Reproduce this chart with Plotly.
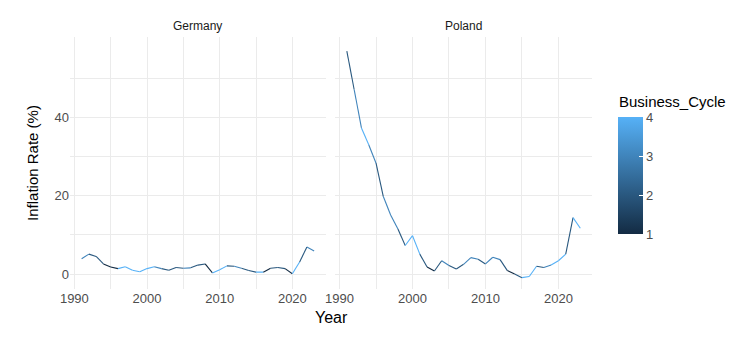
import plotly.graph_objects as go
from plotly.colors import sample_colorscale

years = list(range(1991, 2024))

germany_inflation = [3.9, 5.1, 4.5, 2.6, 1.8, 1.4, 1.9, 1.0, 0.6, 1.4,
                     1.9, 1.4, 1.0, 1.7, 1.5, 1.6, 2.3, 2.6, 0.3, 1.1,
                     2.1, 2.0, 1.5, 0.9, 0.5, 0.5, 1.5, 1.7, 1.4, 0.1,
                     3.1, 6.9, 5.9]
germany_cycle = [3, 2, 2, 1, 1, 4, 4, 4, 4, 4,
                 3, 2, 2, 2, 3, 2, 2, 1, 4, 4,
                 2, 3, 2, 2, 4, 1, 2, 2, 1, 4,
                 2, 3, 3]

poland_inflation = [56.9, 47.1, 37.3, 33.0, 28.3, 19.8, 15.1, 11.5, 7.3, 9.8,
                    5.1, 1.8, 0.8, 3.4, 2.2, 1.3, 2.5, 4.2, 3.8, 2.6,
                    4.3, 3.7, 0.9, 0.0, -0.9, -0.6, 2.0, 1.7, 2.3, 3.4,
                    5.1, 14.4, 11.7]
poland_cycle = [2, 3, 4, 3, 2, 3, 3, 2, 4, 4,
                2, 1, 2, 3, 2, 2, 3, 3, 2, 3,
                3, 2, 1, 2, 4, 4, 2, 3, 4, 4,
                2, 4, 4]

cscale = [[0, "#132B43"], [1, "#56B1F7"]]
cmin, cmax = 1, 4

fig = go.Figure()

panels = [("Germany", germany_inflation, germany_cycle, "x", "y"),
          ("Poland", poland_inflation, poland_cycle, "x2", "y2")]

for name, vals, cyc, xa, ya in panels:
    for i in range(len(years) - 1):
        col = sample_colorscale(cscale, (cyc[i] - cmin) / (cmax - cmin))[0]
        fig.add_trace(go.Scatter(
            x=years[i:i + 2], y=vals[i:i + 2], mode="lines",
            line=dict(color=col, width=1.1), xaxis=xa, yaxis=ya,
            showlegend=False, hoverinfo="skip"))

# dummy trace for colourbar
fig.add_trace(go.Scatter(
    x=[years[0]], y=[germany_inflation[0]], mode="markers",
    marker=dict(color=[1], colorscale=cscale, cmin=cmin, cmax=cmax, size=0.1, opacity=0,
                showscale=True,
                colorbar=dict(
                    tickvals=[1, 2, 3, 4], ticks="inside", ticklen=4,
                    tickcolor="white", outlinewidth=0,
                    tickfont=dict(size=13, color="#4D4D4D"),
                    thickness=25, thicknessmode="pixels",
                    len=117, lenmode="pixels", xpad=0, ypad=0,
                    x=1.05, xanchor="left", y=0.45, yanchor="middle")),
    showlegend=False, hoverinfo="skip"))

grid = "#EBEBEB"
xcommon = dict(range=[1989.4, 2024.6], tickvals=[1990, 2000, 2010, 2020],
               showgrid=True, gridcolor=grid, gridwidth=1, zeroline=False,
               showline=False, ticks="",
               minor=dict(showgrid=True, gridcolor=grid, gridwidth=0.5, dtick=10, tick0=1995),
               tickfont=dict(size=13, color="#4D4D4D"))
ycommon = dict(range=[-3.8, 60.5], tickvals=[0, 20, 40],
               showgrid=True, gridcolor=grid, gridwidth=1, zeroline=False,
               showline=False, ticks="",
               minor=dict(showgrid=True, gridcolor=grid, gridwidth=0.5, dtick=20, tick0=10),
               tickfont=dict(size=13, color="#4D4D4D"))

fig.update_layout(
    width=755, height=344,
    margin=dict(l=62, r=171, t=29, b=63, autoexpand=False),
    plot_bgcolor="white", paper_bgcolor="white",
    font=dict(family="Liberation Sans, Arial, sans-serif"),
    xaxis=dict(domain=[0, 0.49], **xcommon),
    xaxis2=dict(domain=[0.508, 1], **xcommon),
    yaxis=dict(anchor="x", title=dict(text="Inflation Rate (%)", font=dict(size=15, color="#000000"), standoff=12),
               **ycommon),
    yaxis2=dict(anchor="x2", matches="y", showticklabels=False, **ycommon),
    annotations=[
        dict(text="Germany", x=0.245, y=1.0, xref="paper", yref="paper",
             xanchor="center", yanchor="bottom", showarrow=False, yshift=2,
             font=dict(size=12, color="#1A1A1A")),
        dict(text="Poland", x=0.754, y=1.0, xref="paper", yref="paper",
             xanchor="center", yanchor="bottom", showarrow=False, yshift=2,
             font=dict(size=12, color="#1A1A1A")),
        dict(text="Year", x=0.5, y=0, xref="paper", yref="paper",
             xanchor="center", yanchor="top", showarrow=False, yshift=-18,
             font=dict(size=16, color="#000000")),
        dict(text="Business_Cycle", x=1.047, y=0.745, xref="paper", yref="paper",
             xanchor="left", yanchor="middle", showarrow=False,
             font=dict(size=15, color="#000000")),
    ],
)

fig.write_html("out.html")
